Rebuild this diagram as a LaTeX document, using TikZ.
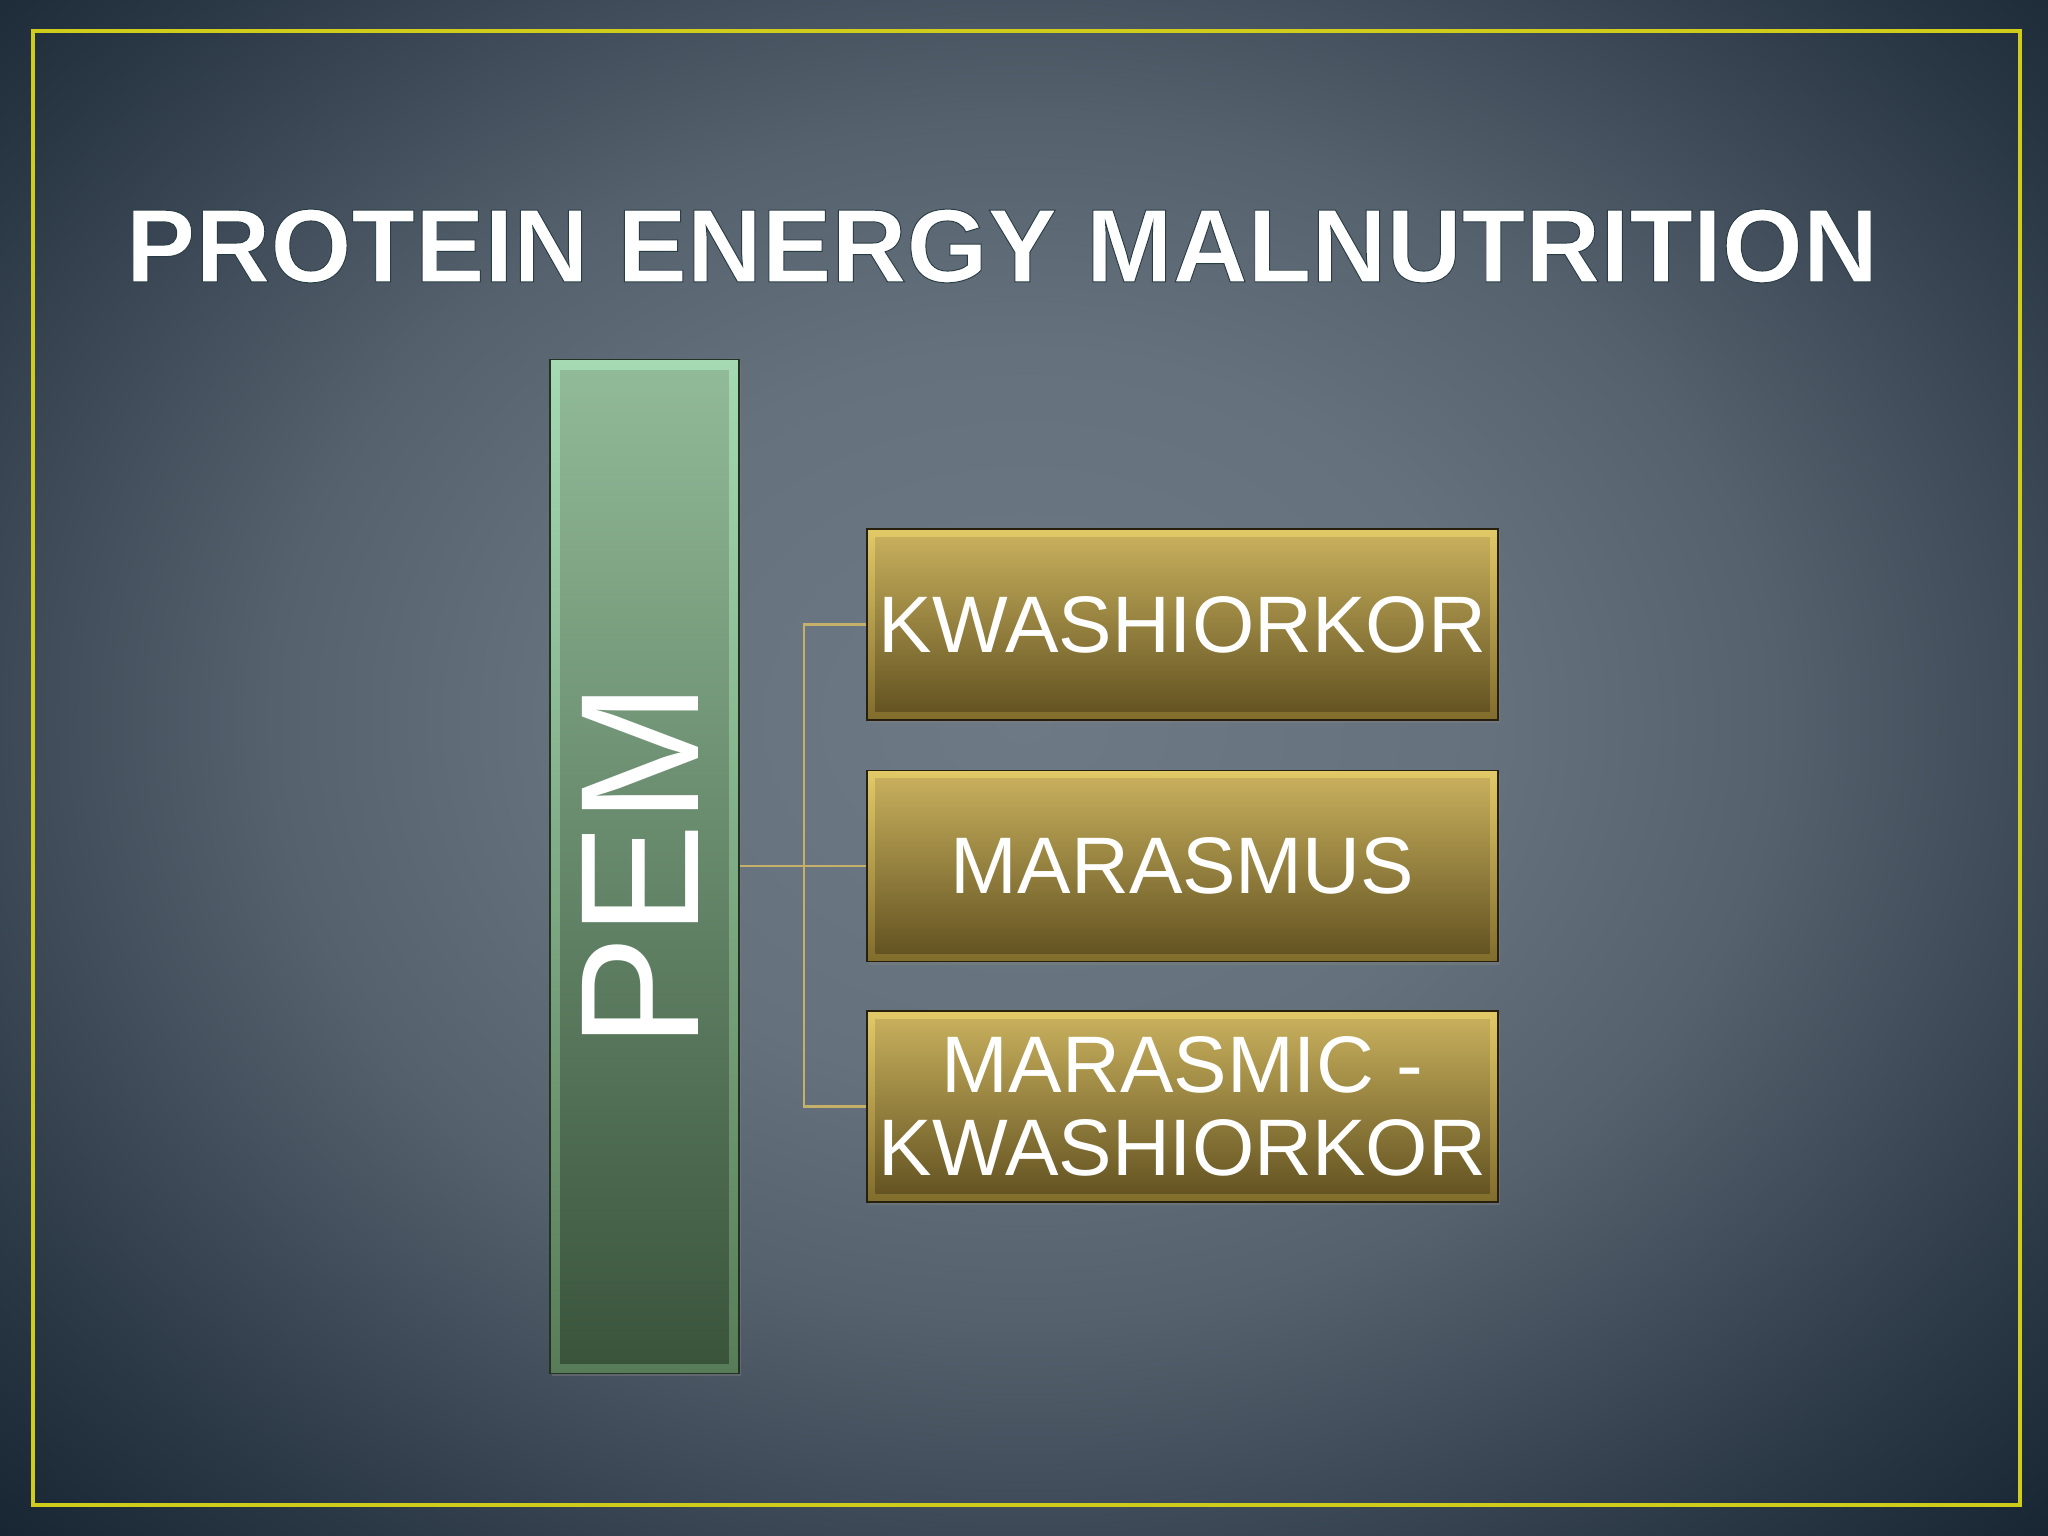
\documentclass[tikz,border=0pt]{standalone}
\usepackage{fontspec}
\setmainfont{Liberation Sans}
\usetikzlibrary{shadows}

\definecolor{bg0}{RGB}{110,121,134}
\definecolor{bg1}{RGB}{102,113,126}
\definecolor{bg2}{RGB}{86,97,110}
\definecolor{bg3}{RGB}{64,76,89}
\definecolor{bg4}{RGB}{42,55,68}
\definecolor{bg5}{RGB}{24,38,52}
\definecolor{frameyellow}{RGB}{208,204,28}
\definecolor{conncol}{RGB}{196,176,104}
\definecolor{goldOT}{RGB}{226,202,104}
\definecolor{goldOB}{RGB}{128,108,44}
\definecolor{goldIT}{RGB}{198,174,92}
\definecolor{goldIB}{RGB}{100,84,34}
\definecolor{greenOT}{RGB}{165,218,178}
\definecolor{greenOB}{RGB}{88,124,88}
\definecolor{greenIT}{RGB}{145,186,152}
\definecolor{greenIB}{RGB}{58,84,60}

% TikZ maps the central 50bp x 50bp of a shading onto the path's bounding box
\pgfdeclareradialshading{bgshade}{\pgfpoint{0bp}{0bp}}{color(0bp)=(bg0); color(8bp)=(bg1); color(13bp)=(bg2); color(17bp)=(bg3); color(21bp)=(bg4); color(25bp)=(bg5); color(50bp)=(bg5)}

\newcommand{\outlinedtext}[1]{\special{pdf:literal q 2 Tr 0.28 w 0.16 0.24 0.27 RG}#1\special{pdf:literal Q}}

\tikzset{
  frameline/.style={draw=frameyellow, line width=1.15pt},
  titletext/.style={font=\bfseries\fontsize{29.6}{34}\selectfont, text=white, inner sep=0pt},
  goldbox/.style={rectangle, minimum width=6.31cm, minimum height=1.91cm, inner sep=0pt,
    top color=goldOT, bottom color=goldOB, draw=black!70!goldOB, line width=0.4pt,
    drop shadow={shadow xshift=0.6pt, shadow yshift=-0.9pt, opacity=0.45}},
  goldinner/.style={top color=goldIT, bottom color=goldIB, draw=none},
  boxtext/.style={text=white, font=\fontsize{22.8}{23.5}\selectfont, inner sep=0pt, align=center},
  pembox/.style={rectangle, minimum width=1.89cm, minimum height=10.13cm, inner sep=0pt,
    top color=greenOT, bottom color=greenOB, draw=black!60!greenOB, line width=0.4pt,
    drop shadow={shadow xshift=0.6pt, shadow yshift=-0.9pt, opacity=0.45}},
  peminner/.style={top color=greenIT, bottom color=greenIB, draw=none},
  pemlabel/.style={rotate=90, text=white, font=\fontsize{48}{52}\selectfont, inner sep=0pt},
  conn/.style={draw=conncol, line width=0.7pt},
}

\begin{document}
\begin{tikzpicture}[x=0.01cm,y=-0.01cm]
\useasboundingbox (0,0) rectangle (2048,1536);
\begin{scope}
  \clip (0,0) rectangle (2048,1536);
  \shade[shading=bgshade] (-424,-430) rectangle (2472,1870);
\end{scope}
\draw[frameline] (33,31) rectangle (2020,1505);

% title
\node[titletext] (title) at (1002,246) {\outlinedtext{PROTEIN ENERGY MALNUTRITION}};

% PEM box
\node[pembox] (pem) at (644.5,866.5) {};
\fill[peminner] ([shift={(11,11)}]pem.north west) rectangle ([shift={(-11,-11)}]pem.south east);
\node[pemlabel] (pemtext) at (640,866) {PEM};

% gold boxes
\node[goldbox] (k) at (1182.5,624.5) {};
\fill[goldinner] ([shift={(9,9)}]k.north west) rectangle ([shift={(-9,-9)}]k.south east);
\node[boxtext] (ktext) at (k.center) {KWASHIORKOR};

\node[goldbox] (m) at (1182.5,866) {};
\fill[goldinner] ([shift={(9,9)}]m.north west) rectangle ([shift={(-9,-9)}]m.south east);
\node[boxtext] (mtext) at (m.center) {MARASMUS};

\node[goldbox] (mk) at (1182.5,1106.5) {};
\fill[goldinner] ([shift={(9,9)}]mk.north west) rectangle ([shift={(-9,-9)}]mk.south east);
\node[boxtext] (mktext) at (mk.center) {MARASMIC -\\KWASHIORKOR};

% connectors
\coordinate (bus) at (804,866);
\draw[conn] (pem.east |- m.west) -- (m.west);
\draw[conn] (k.west) -- (k.west -| bus) -- (mk.west -| bus) -- (mk.west);
\end{tikzpicture}
\end{document}
